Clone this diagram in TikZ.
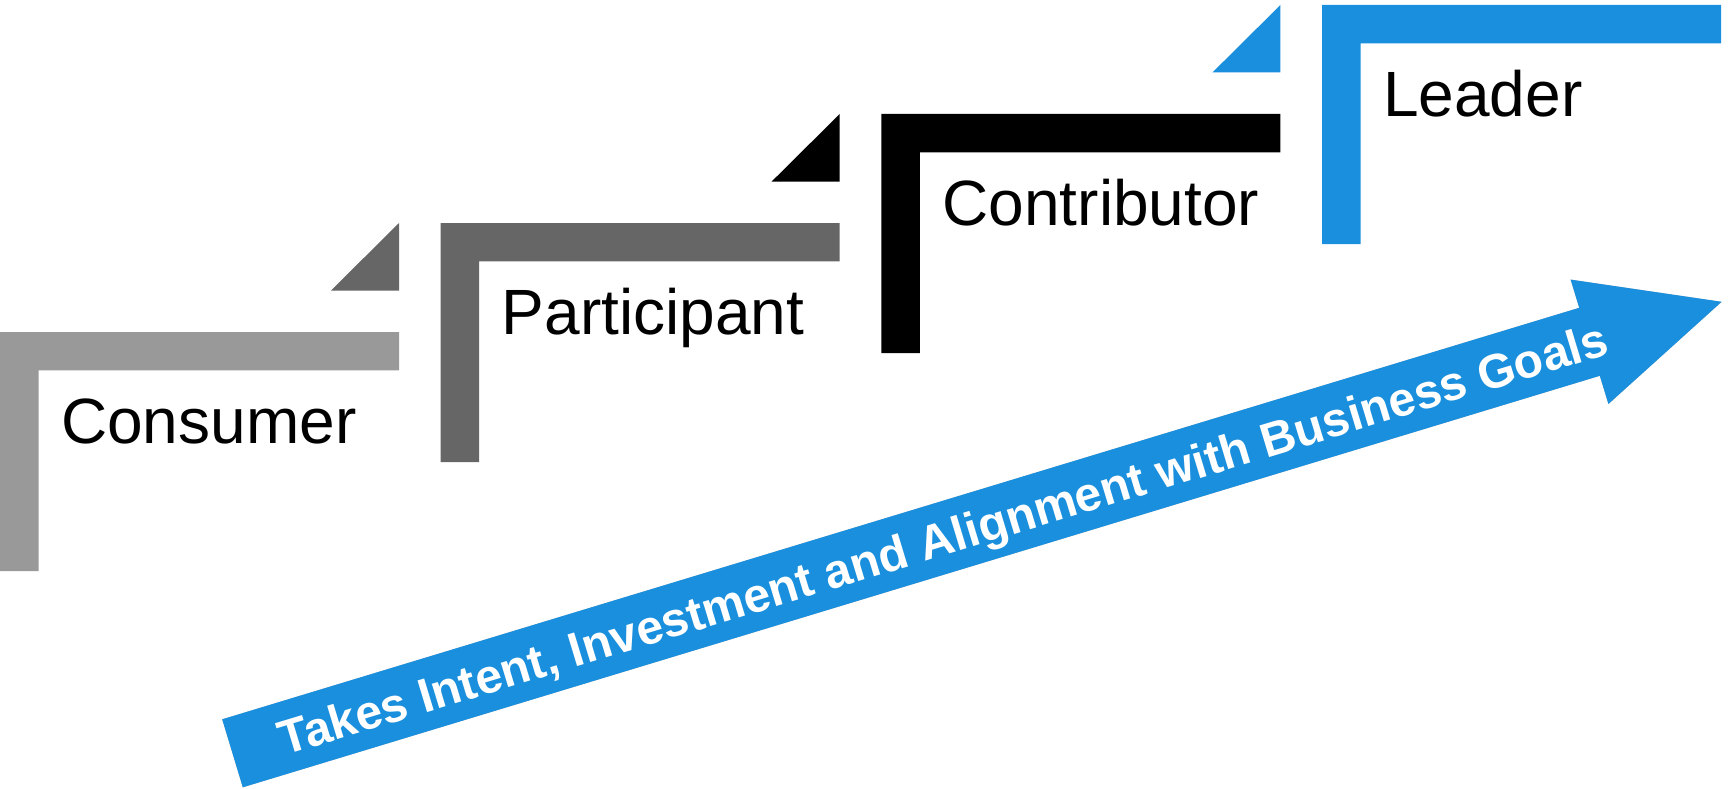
\documentclass[tikz,border=0pt]{standalone}
\usepackage{fontspec}
\setmainfont{Liberation Sans}
\definecolor{stepgrayA}{RGB}{153,153,153}
\definecolor{stepgrayB}{RGB}{102,102,102}
\definecolor{stepblue}{RGB}{26,143,221}
\begin{document}
\begin{tikzpicture}[x=1pt,y=-1pt,
  bracketshape/.style={fill=#1,draw=none},
  notch/.style={fill=#1,draw=none},
  steplabel/.style={anchor=base west,inner sep=0pt,text=black,
    font=\fontsize{64}{77}\selectfont},
  arrowbody/.style={fill=stepblue,draw=none},
  arrowshade/.style={fill=black,fill opacity=0.07,draw=none},
  arrowtext/.style={anchor=base,inner sep=0pt,text=white,rotate=16.87,
    font=\fontsize{48}{58}\selectfont\bfseries}]
\useasboundingbox (0,0) rectangle (1728,789);

% the four stepped brackets (bar 38.5 wide, 399 long, 239 tall)
\foreach \i/\col in {0/stepgrayA,1/stepgrayB,2/black,3/stepblue}{
  \pgfmathsetmacro{\xo}{440.7*\i}
  \pgfmathsetmacro{\yo}{332-109*\i}
  \fill[bracketshape=\col] (\xo,\yo) -- ++(399,0) -- ++(0,38.3)
    -- ++(-360.5,0) -- ++(0,200.7) -- ++(-38.5,0) -- cycle;
}

% corner notches leading up to the next step
\foreach \i/\col in {1/stepgrayB,2/black,3/stepblue}{
  \pgfmathsetmacro{\xr}{440.7*(\i-1)+399}
  \pgfmathsetmacro{\yt}{332-109*\i}
  \fill[notch=\col] (\xr,\yt) -- (\xr,\yt+67.5) -- (\xr-68,\yt+67.5) -- cycle;
}

% step labels
\node[steplabel] (consumer)    at (61,443.3)    {Consumer};
\node[steplabel] (participant) at (501.7,334.3) {Participant};
\node[steplabel] (contributor) at (942.4,225.3) {Contributor};
\node[steplabel] (leader)      at (1383,116.3)  {Leader};

% rising arrow
\coordinate (tailup)  at (222.2,719.3);
\coordinate (taillow) at (242.8,787.3);
\coordinate (shaftlow) at (1599.8,375.8);
\coordinate (headlow) at (1608.4,404.0);
\coordinate (tip)     at (1721.6,301.8);
\coordinate (headup)  at (1570.6,279.6);
\coordinate (shaftup) at (1579.2,307.8);
% soft shadow below the arrow
\foreach \d in {1,2,3,4}{
  \path[arrowshade,shift={(0.6*\d,1.0*\d)}] (tailup) -- (taillow) -- (shaftlow)
    -- (headlow) -- (tip) -- (headup) -- (shaftup) -- cycle;
}
\path[arrowbody] (tailup) -- (taillow) -- (shaftlow) -- (headlow)
  -- (tip) -- (headup) -- (shaftup) -- cycle;
\node[arrowtext] (goal) at (947.7,554.7)
  {Takes Intent, Investment and Alignment with Business Goals};
\end{tikzpicture}
\end{document}
